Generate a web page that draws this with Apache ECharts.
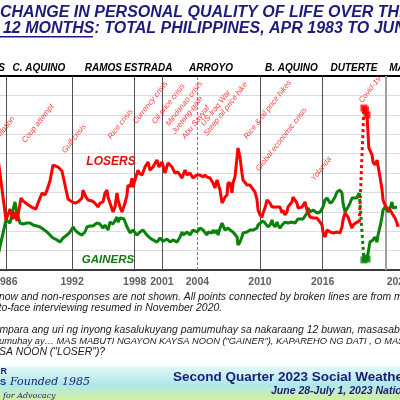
<!DOCTYPE html>
<html><head><meta charset="utf-8">
<script src="https://cdn.jsdelivr.net/npm/echarts@6/dist/echarts.min.js"></script>
<style>html,body{margin:0;padding:0;background:#fff}#c{width:400px;height:400px}</style>
</head><body><div id="c"></div>
<script>
// ---- data (decimal years, percent) ----
const loserDates1 = [1983.3,1984.0,1984.5,1985.0,1985.29,
1986.12,1986.50,1986.79,1986.98,1987.17,1987.56,1987.75,1988.13,1988.42,1988.71,
1988.99,1989.18,1989.57,1989.85,1990.05,1990.33,1990.62,1991.10,1991.48,1991.77,
1992.06,1992.44,1992.73,1993.02,1993.40,1993.49,1993.78,1993.97,1994.36,1994.64,
1994.93,1995.12,1995.41,1995.60,1995.79,1995.89,1996.08,1996.37,1996.56,1996.75,
1996.85,1997.04,1997.23,1997.33,1997.52,1997.71,1997.80,1998.00,1998.19,1998.28,
1998.47,1998.76,1998.95,1999.15,1999.43,1999.72,1999.91,2000.20,2000.58,2000.77,
2001.06,2001.35,2001.64,2002.02,2002.31,2002.59,2002.98,2003.26,2003.46,2003.74,
2004.03,2004.41,2004.70,2004.99,2005.18,2005.37,2005.66,2005.95,2006.14,2006.33,
2006.62,2006.81,2007.10,2007.29,2007.38,2007.58,2007.77,2007.86,2008.05,2008.25,
2008.34,2008.53,2008.72,2008.82,2009.01,2009.20,2009.30,2009.49,2009.68,2009.78,
2009.97,2010.16,2010.26,2010.45,2010.64,2010.74,2010.93,2011.12,2011.41,2011.60,
2012.08,2012.36,2012.56,2012.65,2012.84,2013.03,2013.13,2013.32,2013.51,2013.61,
2013.80,2013.99,2014.09,2014.47,2014.76,2014.95,2015.24,2015.53,2015.91,2016.20,
2016.39,2016.48,2016.67,2016.87,2017.15,2017.44,2017.82,2018.11,2018.30,2018.40,
2018.59,2018.78,2018.88,2019.07,2019.26,2019.36,2019.74,2019.84,2019.96];
const loserValues1 = [38,50,58,63,60,
25.8,31.4,26.3,29.9,25.3,37.1,35.6,34.0,33.0,32.0,
31.4,34.5,39.7,38.7,41.2,45.9,54.1,53.1,51.0,43.8,
36.6,35.1,34.5,35.1,37.1,41.2,37.6,36.1,35.6,34.5,
32.5,34.5,35.1,39.7,41.2,37.6,34.5,29.9,32.5,39.7,
36.1,32.5,29.9,29.4,34.5,38.7,43.8,42.8,47.4,42.8,
46.4,51.5,49.5,49.0,53.1,55.7,51.5,53.1,56.7,53.1,
55.7,50.0,55.2,53.1,50.0,50.5,47.4,51.5,49.0,50.0,
47.4,49.0,49.0,47.9,49.0,47.9,47.4,44.8,42.3,46.4,
41.2,34.5,37.6,38.7,44.8,44.8,39.7,44.8,47.9,58.2,
62.9,58.2,50.0,46.4,46.4,43.8,44.8,43.8,42.3,42.8,
40.2,36.1,30.9,28.4,27.3,29.4,32.0,36.1,34.5,32.5,
32.5,32.5,29.4,30.9,28.4,29.9,32.5,33.5,35.1,37.6,
37.1,34.5,32.0,32.5,35.1,30.9,27.3,26.8,26.8,24.7,
23.2,19.6,17.0,20.6,19.6,19.1,19.6,19.1,22.2,25.8,
29.4,29.9,27.3,24.2,21.6,23.2,24.7,24.2,24.7];

const gainerDates1 = [1983.3,1984.0,1984.5,1985.0,1985.29,
1986.12,1986.50,1986.69,1986.79,1986.98,1987.08,1987.17,1987.46,1987.75,1988.13,
1988.42,1988.71,1989.09,1989.37,1989.66,1990.05,1990.33,1990.62,1991.00,1991.29,
1991.58,1991.96,1992.25,1992.54,1992.73,1993.02,1993.40,1993.68,1993.88,1994.16,
1994.45,1994.83,1995.12,1995.41,1995.60,1995.89,1996.08,1996.37,1996.75,1996.85,
1997.04,1997.23,1997.42,1997.71,1998.00,1998.28,1998.66,1998.95,1999.24,1999.62,
1999.91,2000.20,2000.58,2000.68,2000.87,2001.16,2001.54,2001.83,2002.11,2002.50,
2002.79,2002.98,2003.07,2003.46,2003.74,2004.03,2004.41,2004.70,2004.99,2005.37,
2005.47,2005.85,2005.95,2006.14,2006.33,2006.43,2006.62,2006.81,2006.90,2007.10,
2007.29,2007.38,2007.58,2007.86,2008.05,2008.25,2008.34,2008.53,2008.72,2008.82,
2009.20,2009.49,2009.78,2009.97,2010.16,2010.26,2010.45,2010.74,2010.93,2011.12,
2011.21,2011.41,2011.60,2011.69,2011.89,2012.08,2012.17,2012.36,2012.56,2012.65,
2012.84,2013.13,2013.51,2013.80,2014.09,2014.28,2014.57,2014.95,2015.05,2015.24,
2015.53,2015.91,2016.20,2016.48,2016.67,2016.87,2017.15,2017.35,2017.44,2017.63,
2017.82,2018.11,2018.30,2018.40,2018.59,2018.78,2018.88,2019.07,2019.26,2019.36,
2019.74,2019.84,2019.96];
const gainerValues1 = [28,15,10,11,6,
25.8,24.2,23.2,30.9,35.1,36.1,29.4,24.2,23.7,24.2,
24.2,23.2,22.7,22.2,21.1,19.6,18.0,16.5,15.5,14.4,
16.5,18.0,19.6,22.2,20.6,19.1,18.0,19.6,22.2,22.7,
22.7,24.2,23.7,21.6,23.2,20.6,24.7,23.7,27.3,24.7,
26.8,27.8,26.3,22.2,19.1,20.6,18.0,19.6,20.6,18.0,
16.5,15.5,14.4,13.9,16.5,14.9,16.0,14.4,15.5,14.4,
17.0,19.6,18.0,19.6,18.0,20.6,19.6,21.6,20.6,18.0,
19.6,19.1,20.6,19.1,20.6,18.0,21.6,24.2,23.2,20.6,
19.6,21.6,20.6,19.6,19.1,17.0,12.9,14.4,17.0,19.1,
19.6,20.6,20.6,19.6,21.6,23.2,24.2,25.3,24.2,23.2,
22.2,23.2,25.8,23.7,22.2,24.7,23.2,21.6,23.2,24.2,
24.7,24.2,24.7,24.2,26.3,25.8,26.3,29.4,32.0,29.9,
30.9,29.4,29.9,32.5,36.1,37.1,34.5,35.1,36.1,37.6,
40.2,41.2,39.7,34.5,29.9,30.9,32.5,34.5,37.1,36.1,
37.1,38.7,39.7];

// mobile phone surveys (2020)
const mobileDates = [2020.40, 2020.55, 2020.70];
const mobileLosers = [83.5, 82.5, 79.9];
const mobileGainers = [5.2, 6.2, 5.7];

// face-to-face from Nov 2020
const loserDates2 = [2020.87,2021.18,2021.27,2021.46,2021.66,2021.75,2021.94,2022.13,2022.23,2022.42,2022.61,2022.90,2023.09,2023.19,2023.38,2023.57,2023.67];
const loserValues2 = [62.9,59.3,55.7,54.1,56.7,57.7,47.9,41.8,36.1,33.5,32.0,30.9,29.9,28.4,26.8,24.2,22.2];
const gainerDates2 = [2020.87,2020.98,2021.27,2021.46,2021.66,2021.75,2021.94,2022.13,2022.23,2022.42,2022.61,2022.71,2022.90,2023.09,2023.19,2023.38,2023.57];
const gainerValues2 = [11.0,14.4,15.5,17.0,14.4,18.0,22.2,27.3,30.9,32.5,32.0,29.9,32.0,35.1,32.0,32.5,32.5];

// axis tick labels
const tickPositions = [1986.1,1992.45,1998.45,2001.05,2004.45,2010.45,2016.45,2023.7];
const tickLabels = ['1986','1992','1998','2001','2004','2010','2016','2022'];

// presidencies (term starts draw the vertical lines)
const presNames = ['MARCOS','C. AQUINO','RAMOS','ESTRADA','ARROYO','B. AQUINO','DUTERTE','MARCOS'];
const presStart = [1983.0,1986.1,1992.45,1998.45,2001.05,2010.45,2016.45,2022.45];
const presEnd   = [1986.1,1992.45,1998.45,2001.05,2010.45,2016.45,2022.45,2024.0];
const arroyoElected = 2004.45;

// events
const eventNames = ['Inflation','Coup attempt','Gulf crisis','Rice crisis','Currency crisis','Oil price crisis','Mindanao crisis','Jueteng-gate','Abu Sayyaf','US-Iraq War','Steep oil price hike','Rice & oil price hikes','Global economic crisis','Yolanda','Covid-19'];
const eventDates = [1985.16,1987.75,1991.58,1995.98,1998.38,2000.20,2001.54,2002.11,2003.07,2004.89,2005.18,2009.01,2010.16,2015.43,2020.03];
const eventLevels = [67.5,66.0,60.8,68.0,75.8,75.8,74.7,70.6,68.0,74.7,69.6,68.0,51.5,46.4,86.6];

// ---- build ----
const zip = (a,b)=>a.map((d,i)=>[d,b[i]]);
const RED='#ff0000', GREEN='#0a820a', NAVY='#1c1c7c';
const FF='"Liberation Sans", Arial, sans-serif';
const l1 = zip(loserDates1, loserValues1);
const g1 = zip(gainerDates1, gainerValues1);
const lm = zip(mobileDates, mobileLosers);
const gm = zip(mobileDates, mobileGainers);
const l2 = lm.concat(zip(loserDates2, loserValues2));
const g2 = gm.concat(zip(gainerDates2, gainerValues2));

const vLines = presStart.slice(1).map(t=>({xAxis:t,
  lineStyle: t===2022.45 ? {color:'#a0a0a0',width:2,type:'solid'} : {color:'#505050',width:1,type:'solid'}}));
vLines.push({xAxis:arroyoElected, lineStyle:{color:'#808080',width:1,type:[3,2]}});

const areas = presNames.map((n,i)=>{
  const lab = {};
  if (i===0) lab.offset=[-7,0];
  if (i===presNames.length-1) lab.offset=[18,0];
  return [{name:n, xAxis:presStart[i], label:lab},{xAxis:presEnd[i]}];
});

const chart = echarts.init(document.getElementById('c'), null, {renderer:'canvas'});
const ft = (style,weight,size)=>`${style} ${weight} ${size}px ${FF}`;
const NOTE = ft('italic','normal',10.4);
chart.setOption({
  animation:false,
  backgroundColor:'#ffffff',
  textStyle:{fontFamily:FF},
  grid:{left:-26.56, right:-1.5, top:76, bottom:130, containLabel:false, outerBoundsMode:'none'},
  xAxis:[{type:'value', min:1983, max:2024,
    axisLine:{show:true, onZero:false, lineStyle:{color:'#000',width:1.5}},
    axisTick:{show:false}, splitLine:{show:false},
    axisLabel:{customValues:tickPositions, margin:7, color:'#606060', fontWeight:'bold', fontSize:10.5,
      formatter:(v)=>{let k=0,b=1e9;tickPositions.forEach((t,i)=>{if(Math.abs(t-v)<b){b=Math.abs(t-v);k=i;}});return tickLabels[k];}}},
    {type:'value', position:'top', min:1983, max:2024,
    axisLine:{show:true, onZero:false, lineStyle:{color:'#000',width:2}},
    axisTick:{show:false}, axisLabel:{show:false}, splitLine:{show:false}}],
  yAxis:{type:'value', min:0, max:100, interval:10,
    axisLine:{show:false}, axisTick:{show:false}, axisLabel:{show:false},
    splitLine:{lineStyle:{color:'#dcdcdc',width:1}}},
  series:[
    {type:'line', data:l1, symbol:'none', clip:false, z:5,
      lineStyle:{color:RED,width:3}, itemStyle:{color:RED},
      markLine:{silent:true, symbol:['none','none'], label:{show:false}, data:vLines, z:1},
      markArea:{silent:true, itemStyle:{color:'rgba(0,0,0,0)'},
        label:{show:true, position:'top', distance:3, color:'#000', fontSize:10, fontWeight:'bold', fontStyle:'italic'},
        data:areas}},
    {type:'line', data:[l1[l1.length-1], lm[0]], symbol:'none', z:5,
      lineStyle:{color:RED,width:3,type:[3,3]}},
    {type:'line', data:l2, symbol:'none', z:5, lineStyle:{color:RED,width:3}},
    {type:'scatter', data:lm, symbol:'rect', symbolSize:7, z:6, itemStyle:{color:RED}},
    {type:'line', data:g1, symbol:'none', z:4, lineStyle:{color:GREEN,width:3}},
    {type:'line', data:[g1[g1.length-1], gm[0]], symbol:'none', z:4,
      lineStyle:{color:GREEN,width:3,type:[3,3]}},
    {type:'line', data:g2, symbol:'none', z:4, lineStyle:{color:GREEN,width:3}},
    {type:'scatter', data:gm, symbol:'rect', symbolSize:7, z:6, itemStyle:{color:GREEN}},
    {type:'scatter', z:7, symbolSize:1, itemStyle:{color:'rgba(0,0,0,0)'}, clip:false,
      data:eventNames.map((n,i)=>({name:n, value:[eventDates[i], eventLevels[i]]})),
      label:{show:true, formatter:'{b}', position:'right', distance:0, rotate:52,
        color:'#f01010', fontSize:7.8, fontStyle:'italic', fontFamily:FF}}
  ],
  graphic:[
    {type:'text', x:0, y:13, z:10, style:{text:'CHANGE IN PERSONAL QUALITY OF LIFE OVER THE', font:ft('italic','bold',16), fill:NAVY, align:'left', verticalAlign:'middle'}},
    {type:'text', x:-43, y:29, z:10, style:{text:'PAST 12 MONTHS: TOTAL PHILIPPINES, APR 1983 TO JUN 2023', font:ft('italic','bold',16), fill:NAVY, align:'left', verticalAlign:'middle'}},
    {type:'rect', z:10, shape:{x:-43, y:36, width:136, height:1.5}, style:{fill:NAVY}},
    {type:'text', x:111, y:162, z:10, style:{text:'LOSERS', font:ft('italic','bold',12), fill:'#e01010', align:'center', verticalAlign:'middle'}},
    {type:'text', x:108, y:260, z:10, style:{text:'GAINERS', font:ft('italic','bold',11.5), fill:'#137a13', align:'center', verticalAlign:'middle'}},
    {type:'text', x:-33, y:297, z:10, style:{text:"Don't know and non-responses are not shown. All points connected by broken lines are from mobile phone surveys.", font:NOTE, fill:'#1a1a1a', align:'left', verticalAlign:'middle'}},
    {type:'text', x:-28, y:308, z:10, style:{text:'Face-to-face interviewing resumed in November 2020.', font:NOTE, fill:'#1a1a1a', align:'left', verticalAlign:'middle'}},
    {type:'text', x:-52, y:330, z:10, style:{text:'Kung ikukumpara ang uri ng inyong kasalukuyang pamumuhay sa nakaraang 12 buwan, masasabi ba ninyo na ang inyong', font:NOTE, fill:'#1a1a1a', align:'left', verticalAlign:'middle'}},
    {type:'text', x:-19, y:341, z:10, style:{text:'pamumuhay ay… MAS MABUTI NGAYON KAYSA NOON ("GAINER"), KAPAREHO NG DATI , O MAS MASAMA NGAYON', font:ft('italic','normal',9.3), fill:'#1a1a1a', align:'left', verticalAlign:'middle'}},
    {type:'text', x:-21, y:352, z:10, style:{text:'KAYSA NOON ("LOSER")?', font:NOTE, fill:'#1a1a1a', align:'left', verticalAlign:'middle'}},
    {type:'rect', z:8, shape:{x:0, y:366, width:400, height:34},
      style:{fill:new echarts.graphic.LinearGradient(0,0,0,1,[{offset:0,color:'#e4f9f9'},{offset:0.55,color:'#aee8ea'},{offset:1,color:'#d4f0a0'}])}},
    {type:'text', x:7, y:372, z:10, style:{text:'SOCIAL WEATHER', font:ft('normal','bold',9), fill:NAVY, align:'right', verticalAlign:'middle'}},
    {type:'text', x:6, y:383, z:10, style:{text:'STATIONS', font:ft('normal','bold',9), fill:NAVY, align:'right', verticalAlign:'middle'}},
    {type:'text', x:10, y:382, z:10, style:{text:'Founded 1985', font:'italic normal 11px "DejaVu Serif", serif', fill:NAVY, align:'left', verticalAlign:'middle'}},
    {type:'text', x:3, y:396, z:10, style:{text:'for Advocacy', font:'italic normal 8px "DejaVu Serif", serif', fill:NAVY, align:'left', verticalAlign:'middle'}},
    {type:'text', x:173, y:377, z:10, style:{text:'Second Quarter 2023 Social Weather Survey', font:ft('normal','bold',13.5), fill:NAVY, align:'left', verticalAlign:'middle'}},
    {type:'text', x:271, y:391, z:10, style:{text:'June 28-July 1, 2023 National Survey', font:ft('italic','bold',10.5), fill:NAVY, align:'left', verticalAlign:'middle'}}
  ]
});
</script></body></html>
